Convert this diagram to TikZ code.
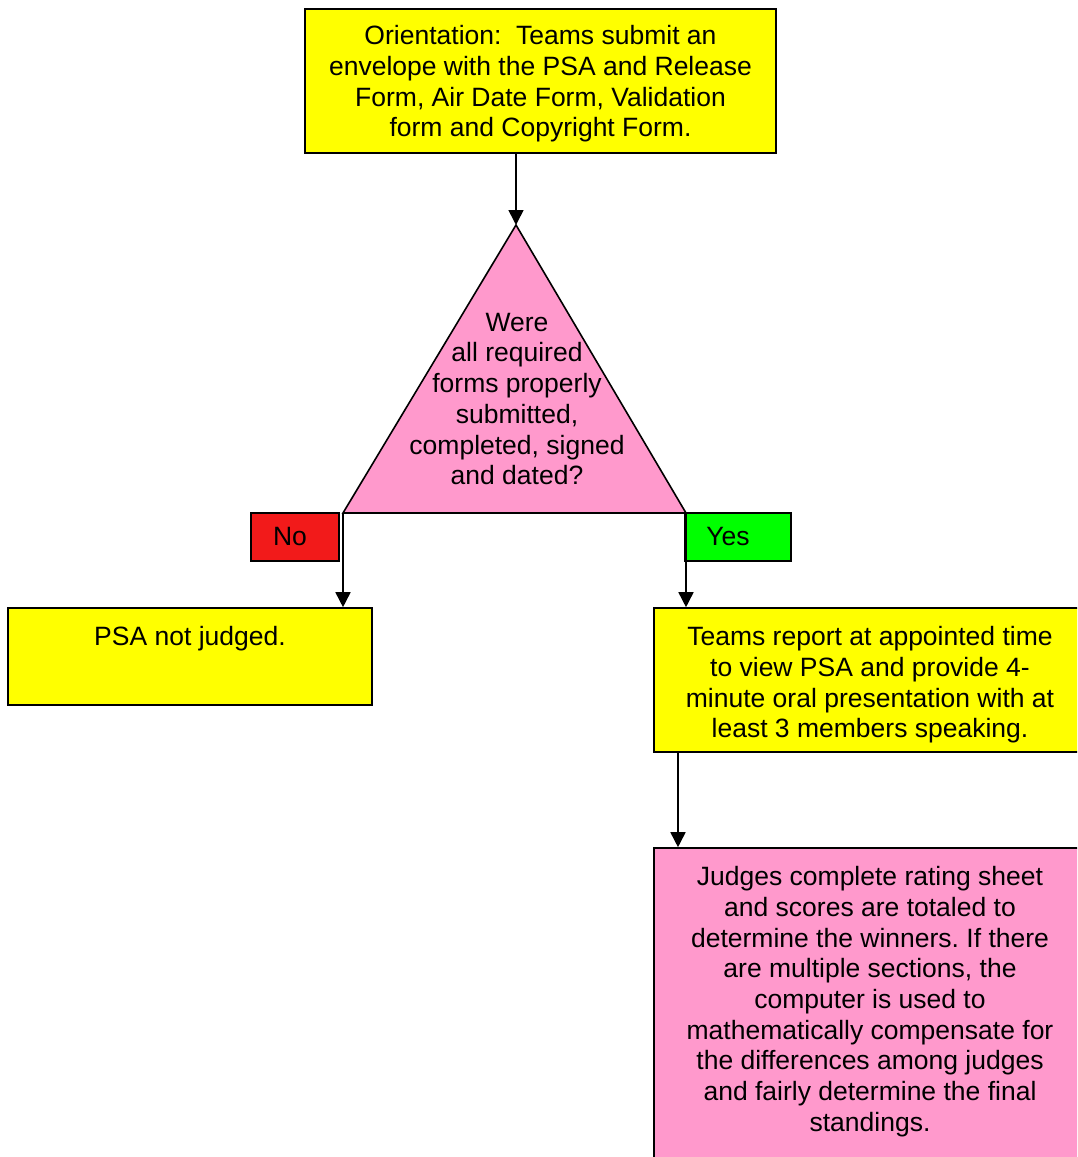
\documentclass[tikz,border=0pt]{standalone}
\usepackage{fontspec}
\setmainfont{Liberation Sans}
\usetikzlibrary{arrows.meta,positioning}

\definecolor{boxyellow}{HTML}{FFFF00}
\definecolor{boxpink}{HTML}{FF99CC}
\definecolor{boxred}{HTML}{F21A1A}
\definecolor{boxgreen}{HTML}{00FF00}

\frenchspacing
\begin{document}
\begin{tikzpicture}[
                x=1pt, y=-1pt,
                font=\fontsize{26.5}{30.7}\selectfont,
                box/.style={draw, line width=1.6pt, inner sep=0pt},
                txt/.style={align=center, inner sep=0pt},
                flow/.style={line width=1.6pt, -{Triangle[length=15pt,width=15pt]}}
            ]
                \useasboundingbox (0,0) rectangle (1077,1157);
                \clip (0,0) rectangle (1077,1157);
                \node[box, fill=boxyellow, minimum width=471pt, minimum height=144pt] (orient) at (540.5,81) {};
                \node[txt, below=17pt of orient.north] (orienttxt)
                    {Orientation:\ \ Teams submit an\\envelope with the PSA and Release\\Form, Air Date Form, Validation\\form and Copyright Form.};
                \coordinate (apex) at (516,225);
                \coordinate (bl) at (343,513);
                \coordinate (br) at (686,513);
                \filldraw[fill=boxpink, line width=1.6pt, line join=miter] (apex) -- (bl) -- (br) -- cycle;
                \node[txt] (check) at (517,399)
                    {Were\\all required\\forms properly\\submitted,\\completed, signed\\and dated?};
                \node[box, fill=boxred, minimum width=88pt, minimum height=48pt] (no) at (295,537) {};
                \node[txt] (notxt) at ([xshift=-5pt]no.center) {No};
                \node[box, fill=boxgreen, minimum width=106pt, minimum height=48pt] (yes) at (738,537) {};
                \node[txt] (yestxt) at ([xshift=-10pt]yes.center) {Yes};
                \node[box, fill=boxyellow, minimum width=364pt, minimum height=97pt] (psa) at (190,656.5) {};
                \node[txt, below=19pt of psa.north] (psatxt) {PSA not judged.};
                \node[box, fill=boxyellow, minimum width=432pt, minimum height=144pt] (teams) at (870,680) {};
                \node[txt, below=19pt of teams.north] (teamstxt)
                    {Teams report at appointed time\\to view PSA and provide 4-\\minute oral presentation with at\\least 3 members speaking.};
                \node[box, fill=boxpink, minimum width=432pt, minimum height=332pt] (judges) at (870,1014) {};
                \node[txt, below=19pt of judges.north] (judgestxt)
                    {Judges complete rating sheet\\and scores are totaled to\\determine the winners. If there\\are multiple sections, the\\computer is used to\\mathematically compensate for\\the differences among judges\\and fairly determine the final\\standings.};
                \coordinate (down) at (678,752);
                \draw[flow] (apex |- orient.south) -- (apex);
                \draw[flow] (bl) -- (bl |- psa.north);
                \draw[flow] (br) -- (br |- teams.north);
                \draw[flow] (down |- teams.south) -- (down |- judges.north);
            \end{tikzpicture}
\end{document}
